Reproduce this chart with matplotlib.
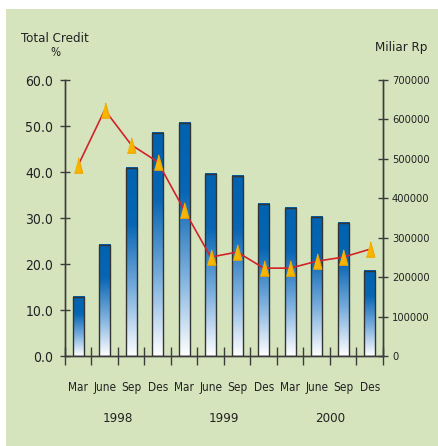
import matplotlib
matplotlib.use("Agg")
import matplotlib.pyplot as plt
import numpy as np
from matplotlib.colors import LinearSegmentedColormap
from matplotlib.patches import Rectangle
from matplotlib import font_manager

# data
months = ["Mar", "June", "Sep", "Des", "Mar", "June", "Sep", "Des",
          "Mar", "June", "Sep", "Des"]
years = ["1998", "1999", "2000"]
credit_rp = [150000, 282000, 477000, 566000, 591000, 462000,
             457000, 386000, 376000, 353000, 338000, 216000]
credit_pct = [41.5, 53.5, 45.9, 42.2, 31.7, 21.5,
              22.6, 19.1, 19.1, 20.6, 21.5, 23.2]

# look for a narrow sans face, the reference uses one
family, stretch = "Liberation Sans", "normal"
for f in font_manager.fontManager.ttflist:
    st = str(f.stretch)
    if f.weight in (400, "normal", "regular") and f.style == "normal" and \
            ("Narrow" in f.name or "Condensed" in f.name or "condensed" in st):
        if "Mono" in f.name or "Serif" in f.name or "CJK" in f.name:
            continue
        family, stretch = f.name, st
        break
plt.rcParams['font.family'] = [family, 'DejaVu Sans']
plt.rcParams['font.stretch'] = stretch

bg = "#d6e4be"
dark = "#3c3c3c"
txt = "#222222"

fig = plt.figure(figsize=(4.39, 4.46), dpi=100)
fig.patch.set_facecolor(bg)
fig.patches.append(Rectangle((0, 1 - 9 / 446), 1, 9 / 446, transform=fig.transFigure,
                             facecolor="white", edgecolor="none", zorder=-10))
fig.patches.append(Rectangle((0, 0), 6 / 439, 1, transform=fig.transFigure,
                             facecolor="white", edgecolor="none", zorder=-10))

ax = fig.add_axes([65 / 439, 1 - 356 / 446, 318 / 439, 276 / 446])
ax.patch.set_visible(False)
ax2 = ax.twinx()
ax2.patch.set_visible(False)

x = np.arange(len(months))
w = 0.42
cmap = LinearSegmentedColormap.from_list(
    "barfade", [(0, "#ffffff"), (0.35, "#7aaedd"), (0.7, "#0866b4"), (1, "#0062b0")])
grad = np.linspace(0, 1, 256).reshape(-1, 1)
for xi, h in zip(x, credit_rp):
    ax.imshow(grad, cmap=cmap, origin="lower", aspect="auto",
              extent=[xi - w / 2, xi + w / 2, 0, h], zorder=2)
ax.bar(x, credit_rp, width=w, fill=False, edgecolor="#333333", linewidth=1.0, zorder=3)

tri = [(-0.55, -1), (0.55, -1), (0, 1)]
ax2.plot(x, credit_pct, color="#d3222a", linewidth=1.2, zorder=4)
ax2.plot(x, credit_pct, linestyle="none", marker=tri, markersize=11,
         color="#f7b500", markeredgecolor="#f0a800", zorder=5)

ax.set_xlim(-0.5, 11.5)
ax.set_ylim(0, 700000)
ax2.set_ylim(0, 60)

# bars use the right axis, percentage uses the left one
ax.yaxis.tick_right()
ax.set_yticks(np.arange(0, 700001, 100000))
ax.set_yticklabels([str(v) for v in range(0, 700001, 100000)])
ax2.yaxis.tick_left()
ax2.set_yticks(np.arange(0, 61, 10))
ax2.set_yticklabels(["%.1f" % v for v in range(0, 61, 10)])

ax.set_xticks(np.arange(-0.5, 12, 1))
ax.set_xticklabels([])
ax.set_xticks(x, minor=True)
ax.set_xticklabels(months, minor=True)
ax.tick_params(axis="x", which="major", direction="inout", length=13, color=dark, width=1)
ax.tick_params(axis="x", which="minor", length=0, pad=18, labelsize=8.5, labelcolor=txt)
ax.tick_params(axis="y", direction="inout", length=7, color=dark, width=1,
               labelsize=8, pad=3, labelcolor=txt)
ax2.tick_params(axis="y", direction="inout", length=7, color=dark, width=1,
                labelsize=10, pad=5, labelcolor=txt)

for a in (ax, ax2):
    a.spines["top"].set_visible(False)
    for s in ("left", "right", "bottom"):
        a.spines[s].set_color(dark)
        a.spines[s].set_linewidth(1.0)

for i, yr in enumerate(years):
    ax.text(1.5 + 4 * i, -62 / 276, yr, transform=ax.get_xaxis_transform(),
            ha="center", va="center", fontsize=9.5, color=txt)

fig.text(55 / 439, 1 - 39 / 446, "Total Credit", ha="center", va="center",
         fontsize=9.5, color=txt)
fig.text(55 / 439, 1 - 53 / 446, "%", ha="center", va="center",
         fontsize=8.5, color=txt)
fig.text(401 / 439, 1 - 47 / 446, "Miliar Rp", ha="center", va="center",
         fontsize=9.5, color=txt)

fig.savefig("out.png", dpi=100, facecolor=fig.get_facecolor())
